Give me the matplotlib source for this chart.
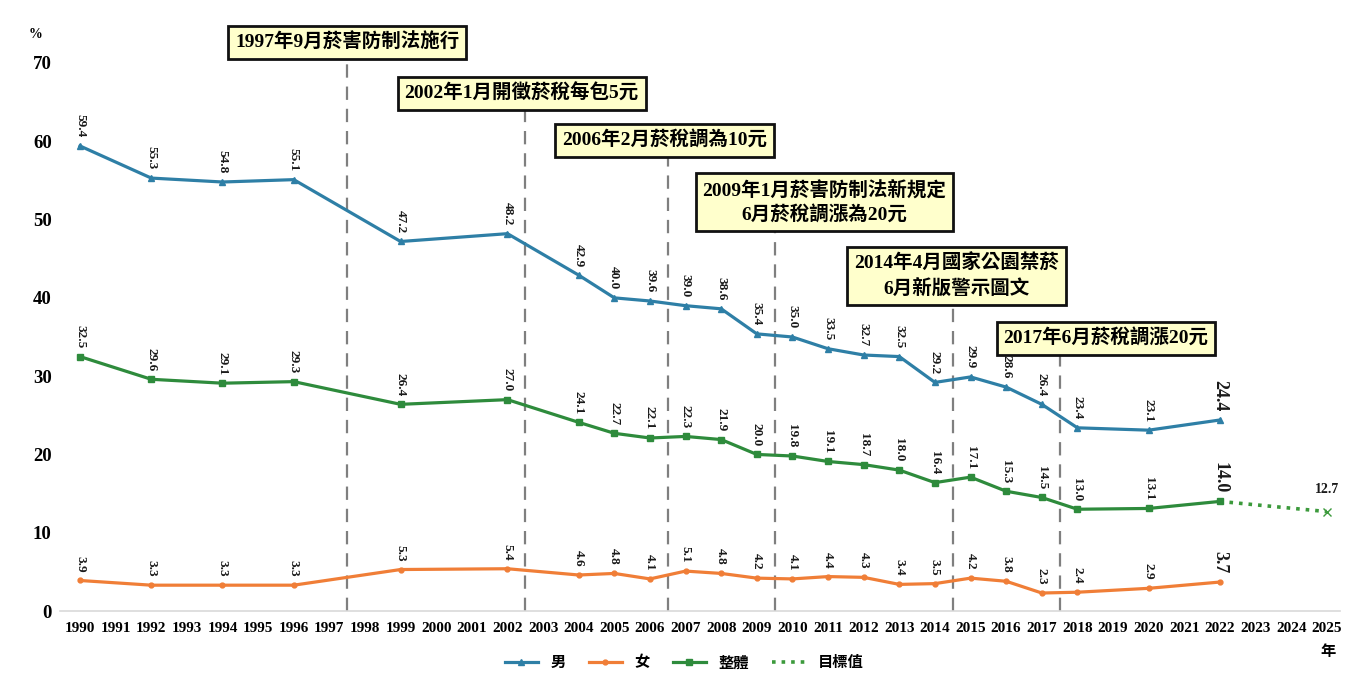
import matplotlib
matplotlib.use('Agg')
import matplotlib.pyplot as plt

plt.rcParams['font.family'] = ['Liberation Serif', 'Noto Sans CJK TC', 'DejaVu Sans']
plt.rcParams['font.weight'] = 'bold'

years = [1990, 1992, 1994, 1996, 1999, 2002, 2004, 2005, 2006, 2007, 2008, 2009,
         2010, 2011, 2012, 2013, 2014, 2015, 2016, 2017, 2018, 2020, 2022]
male = [59.4, 55.3, 54.8, 55.1, 47.2, 48.2, 42.9, 40.0, 39.6, 39.0, 38.6, 35.4,
        35.0, 33.5, 32.7, 32.5, 29.2, 29.9, 28.6, 26.4, 23.4, 23.1, 24.4]
female = [3.9, 3.3, 3.3, 3.3, 5.3, 5.4, 4.6, 4.8, 4.1, 5.1, 4.8, 4.2,
          4.1, 4.4, 4.3, 3.4, 3.5, 4.2, 3.8, 2.3, 2.4, 2.9, 3.7]
overall = [32.5, 29.6, 29.1, 29.3, 26.4, 27.0, 24.1, 22.7, 22.1, 22.3, 21.9, 20.0,
           19.8, 19.1, 18.7, 18.0, 16.4, 17.1, 15.3, 14.5, 13.0, 13.1, 14.0]
target_years = [2022, 2025]
target = [14.0, 12.7]

events = ['1997年9月菸害防制法施行',
          '2002年1月開徵菸稅每包5元',
          '2006年2月菸稅調為10元',
          '2009年1月菸害防制法新規定\n6月菸稅調漲為20元',
          '2014年4月國家公園禁菸\n6月新版警示圖文',
          '2017年6月菸稅調漲20元']
event_lines = [1997.5, 2002.5, 2006.5, 2009.5, 2014.5, 2017.5]
# box centres (data coords); dashed lines run from 0 up under each box
box_xy = [(1997.5, 72.6), (2002.4, 66.1), (2006.4, 60.1),
          (2010.9, 52.2), (2014.6, 42.8), (2018.8, 34.8)]

c_male = '#2E7FA6'
c_female = '#F07E37'
c_all = '#2E8B3C'
c_target = '#3C9A3C'

fig = plt.figure(figsize=(13.68, 6.84), dpi=100)
ax = fig.add_axes([0.0439, 0.1067, 0.9356, 0.8012])

for x, (bx, by) in zip(event_lines, box_xy):
    ax.plot([x, x], [0, by], color='#7F7F7F', lw=1.6, ls=(0, (6, 4)), clip_on=False, zorder=1)

ax.plot(years, male, color=c_male, lw=2.3, marker='^', ms=5, label='男', zorder=3)
ax.plot(years, female, color=c_female, lw=2.3, marker='o', ms=3.5, label='女', zorder=3)
ax.plot(years, overall, color=c_all, lw=2.3, marker='s', ms=4.5, label='整體', zorder=3)
ax.plot(target_years, target, color=c_target, lw=2.6, ls=':', label='目標值', zorder=2)
ax.plot(target_years[-1:], target[-1:], color=c_target, marker='x', ms=6, ls='none', clip_on=False)

for series in (male, female, overall):
    for i, (x, y) in enumerate(zip(years, series)):
        big = i == len(years) - 1
        ax.annotate(f'{y:.1f}', (x, y), xytext=(0, 6), textcoords='offset points',
                    rotation=-90, ha='center', va='bottom',
                    fontsize=13 if big else 9.5, fontweight='bold', color='#1A1A1A')
ax.annotate(f'{target[-1]:.1f}', (target_years[-1], target[-1]), xytext=(0, 11),
            textcoords='offset points', ha='center', va='bottom',
            fontsize=10, fontweight='bold', color='#1A1A1A', annotation_clip=False)

for txt, (bx, by) in zip(events, box_xy):
    ax.text(bx, by, txt, ha='center', va='center', multialignment='center',
            fontsize=14, fontweight='bold', linespacing=1.4, zorder=5,
            bbox=dict(boxstyle='square,pad=0.35', fc='#FFFFCC', ec='#111111', lw=2))

ax.set_xlim(1989.44, 2025.37)
ax.set_ylim(0, 70)
ax.set_xticks(range(1990, 2026))
ax.set_xticklabels([str(y) for y in range(1990, 2026)], fontsize=11, fontweight='bold')
ax.set_yticks(range(0, 71, 10))
ax.set_yticklabels([str(v) for v in range(0, 71, 10)], fontsize=13.5, fontweight='bold')
ax.tick_params(axis='x', length=0, pad=8)
ax.tick_params(axis='y', length=0, pad=6)
for s in ['top', 'right', 'left']:
    ax.spines[s].set_visible(False)
ax.spines['bottom'].set_color('#D9D9D9')
ax.spines['bottom'].set_linewidth(1.2)

fig.text(35 / 1368, 1 - 34 / 684, '%', ha='center', va='center', fontsize=10, fontweight='bold')
fig.text(1328 / 1368, 1 - 652 / 684, '年', ha='center', va='center', fontsize=11, fontweight='bold')

fig.legend(loc='center', bbox_to_anchor=(0.5, 1 - 663 / 684), ncol=4, frameon=False,
           prop={'size': 11, 'weight': 'bold'}, handlelength=2.2, columnspacing=1.5)

fig.savefig('out.png', dpi=100, facecolor='white')
